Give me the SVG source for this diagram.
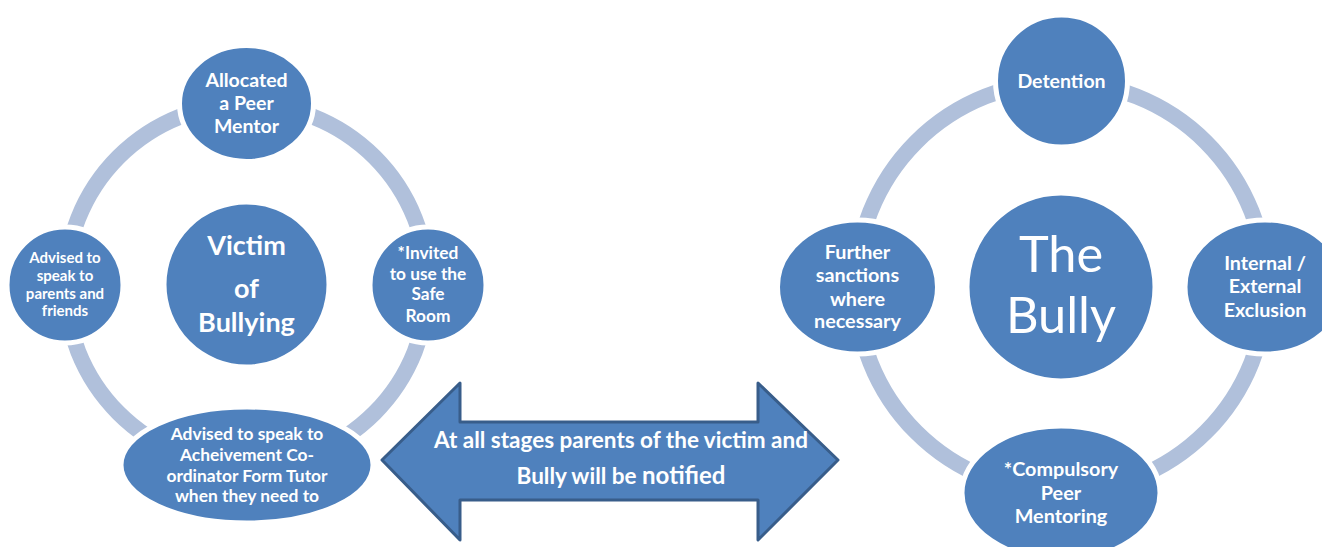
<svg xmlns="http://www.w3.org/2000/svg" width="1322" height="547" viewBox="0 0 1322 547">
<style>
.ring{fill:none;stroke:#B0C0DB;stroke-width:16}
.node{fill:#4F81BD;stroke:#FFFFFF;stroke-width:5}
.t{font-family:Lato,"Open Sans","Liberation Sans",sans-serif;font-weight:bold;fill:#FFFFFF;text-anchor:middle}
.big{font-family:Lato,"Open Sans","Liberation Sans",sans-serif;font-weight:normal;fill:#FFFFFF;text-anchor:middle}
</style>
<rect width="1322" height="547" fill="#FFFFFF"/>
<g id="connectors">
<path class="ring" d="M246.5,104 A181,181 0 0 1 427.5,285"/>
<path class="ring" d="M427.5,285 A181,181 0 0 1 246.5,466"/>
<path class="ring" d="M246.5,466 A181,181 0 0 1 65.5,285"/>
<path class="ring" d="M65.5,285 A181,181 0 0 1 246.5,104"/>
<path class="ring" d="M1061,82 A205,205 0 0 1 1266,287"/>
<path class="ring" d="M1266,287 A205,205 0 0 1 1061,492"/>
<path class="ring" d="M1061,492 A205,205 0 0 1 856,287"/>
<path class="ring" d="M856,287 A205,205 0 0 1 1061,82"/>
</g>
<g id="victim">
<circle class="node" cx="246.5" cy="284.5" r="82.5" stroke-width="0"/>
<text class="t" font-size="27"><tspan x="246.5" y="255">Victim</tspan><tspan x="246.5" y="298">of</tspan><tspan x="246.5" y="332">Bullying</tspan></text>
</g>
<g id="peer-mentor">
<ellipse class="node" cx="246.5" cy="103.5" rx="67" ry="58"/>
<text class="t" font-size="19.5"><tspan x="246.5" y="87">Allocated</tspan><tspan x="246.5" y="110">a Peer</tspan><tspan x="246.5" y="133">Mentor</tspan></text>
</g>
<g id="safe-room">
<ellipse class="node" cx="428" cy="285" rx="58" ry="58"/>
<text class="t" font-size="17.3"><tspan x="428" y="259">*Invited</tspan><tspan x="428" y="280">to use the</tspan><tspan x="428" y="300">Safe</tspan><tspan x="428" y="322">Room</tspan></text>
</g>
<g id="parents-friends">
<ellipse class="node" cx="65" cy="285" rx="58" ry="58"/>
<text class="t" font-size="15"><tspan x="65" y="263">Advised to</tspan><tspan x="65" y="281">speak to</tspan><tspan x="65" y="299">parents and</tspan><tspan x="65" y="316">friends</tspan></text>
</g>
<g id="coordinator">
<ellipse class="node" cx="247" cy="465" rx="126" ry="58"/>
<text class="t" font-size="17.4"><tspan x="247" y="440">Advised to speak to</tspan><tspan x="247" y="461">Acheivement Co-</tspan><tspan x="247" y="482">ordinator Form Tutor</tspan><tspan x="247" y="502">when they need to</tspan></text>
</g>
<g id="notify-arrow">
<path d="M382,460 L460,383 L460,422 L758,422 L758,383 L838,460 L758,540 L758,500 L460,500 L460,540 Z" fill="#4F81BD" stroke="#385D8A" stroke-width="3" stroke-linejoin="round"/>
<text class="t" font-size="22.5"><tspan x="621" y="448">At all stages parents of the victim and</tspan><tspan x="621" y="484">Bully will be <tspan font-size="24">notified</tspan></tspan></text>
</g>
<g id="bully">
<circle class="node" cx="1061" cy="287" r="94" stroke-width="0"/>
<text class="big" font-size="50.5"><tspan x="1061" y="272">The</tspan><tspan x="1061" y="333">Bully</tspan></text>
</g>
<g id="detention">
<circle class="node" cx="1061.5" cy="81" r="66"/>
<text class="t" font-size="19.5" x="1061.5" y="88">Detention</text>
</g>
<g id="exclusion">
<ellipse class="node" cx="1265" cy="287" rx="80" ry="67"/>
<text class="t" font-size="19.7"><tspan x="1265" y="270">Internal /</tspan><tspan x="1265" y="293">External</tspan><tspan x="1265" y="317">Exclusion</tspan></text>
</g>
<g id="further-sanctions">
<ellipse class="node" cx="857.5" cy="287" rx="80" ry="67"/>
<text class="t" font-size="19.8"><tspan x="857.5" y="259">Further</tspan><tspan x="857.5" y="282">sanctions</tspan><tspan x="857.5" y="306">where</tspan><tspan x="857.5" y="328">necessary</tspan></text>
</g>
<g id="compulsory-mentoring">
<ellipse class="node" cx="1061" cy="493" rx="99" ry="67"/>
<text class="t" font-size="19.8"><tspan x="1061" y="476">*Compulsory</tspan><tspan x="1061" y="500">Peer</tspan><tspan x="1061" y="523">Mentoring</tspan></text>
</g>
</svg>
